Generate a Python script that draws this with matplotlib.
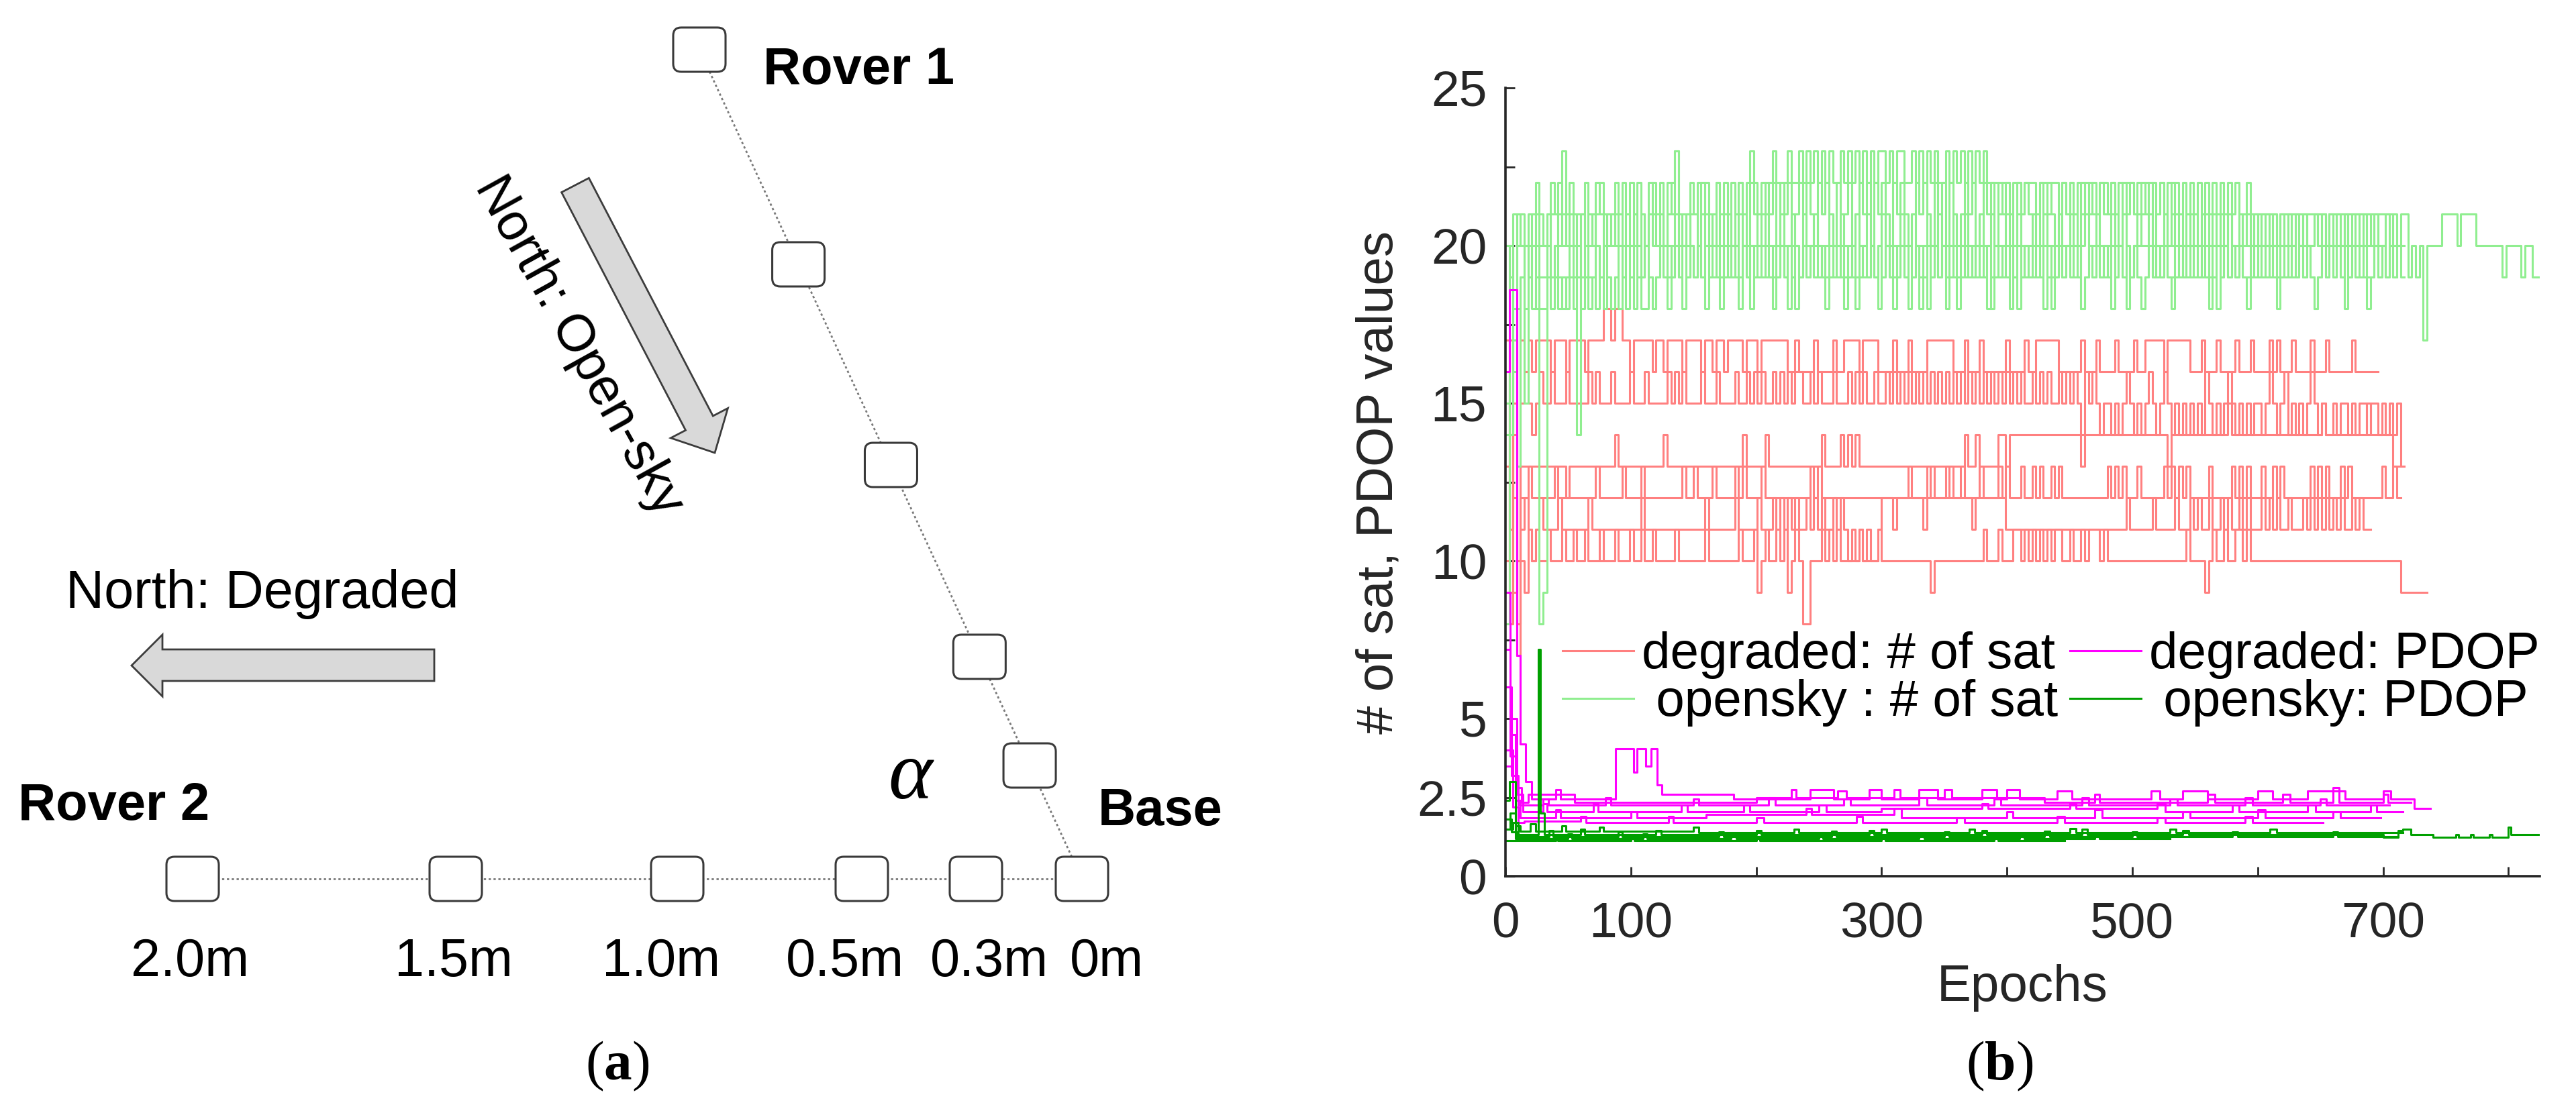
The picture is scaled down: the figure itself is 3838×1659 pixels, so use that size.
import numpy as np
import matplotlib
matplotlib.use("Agg")
from matplotlib import pyplot as plt
from matplotlib.patches import FancyBboxPatch, Polygon

plt.rcParams['font.family'] = ['Liberation Sans', 'DejaVu Sans']
plt.rcParams['mathtext.fontset'] = 'custom'
plt.rcParams['mathtext.rm'] = 'Liberation Serif'
plt.rcParams['mathtext.it'] = 'Liberation Serif:italic'
plt.rcParams['mathtext.bf'] = 'Liberation Serif:bold'

# ---- data ----
# number of satellites: one char per 3 epochs, value = int(char, 36)  (a=10 ... n=23)
deg_sat_1 = ("h9f7a9baba" "abaaabaaba" "abaaabaaab" "aaabaabaab" "aaaaabaaaa"
             "aaabaaaaaa" "aabaaab9ab" "aabab9aba8" "8aaabababa" "aaaabaaaab"
             "aaaaaaaaaa" "aaa9aaaaaa" "aaaaaaabaa" "abaaabbaba" "babababbaa"
             "baababbbab" "aaaaaaaaaa" "aaaaaaaaaa" "abaaaa9aba" "abaabbabaa"
             "aaaaaaaaaa" "aaaaaaaaaa" "aaaaaaaaaa" "aaaaaaaa99" "99999")
deg_sat_2 = ("d8h7bcbabc" "bbbbcbbbbb" "bbcbbabbbb" "bbbbbbcbbb" "bbbbbbbbbb"
             "bbbcbbbbbb" "bcbbbbbcbb" "bcbcbcbcbb" "cbcbcbbcbc" "babababaab"
             "cccbcccdcc" "cbcdcccdcc" "cdccbcdccc" "cccbbbbbbb" "bbbbbbbbbb"
             "bbbbbbbbbb" "bbbbbcbbbb" "bbcbbbbbcb" "bbcbcbbcbb" "cbcbbcbcbb"
             "bcbcbcbbcb" "bbcbcbcbcb" "cbcbbcbcbb")
deg_sat_3 = ("fe9accdccc" "cccdcccccc" "ccccdccccc" "cdccccdccc" "cccccccdcc"
             "dccccdcccc" "cdcdccccdc" "cccccccccc" "cdcdcccccc" "cccccccccc"
             "cccccccccc" "ccdcccccdc" "cccccccccc" "cdcdcccdcc" "dcdccdcdcc"
             "cccccccccc" "dcdcdcccdc" "cccccdcdcd" "cdcccccdcc" "cccdcdcdcc"
             "cdccdcdccc" "ccccdcdcdc" "ccdcdccccc" "cccdccdc")
deg_sat_4 = ("gbe8dddddd" "ddddddcddd" "ddddddddde" "dddddddddd" "ddeddddddd"
             "dddddddddd" "dddeddddde" "dddddddddd" "ddddedddde" "dededddddd"
             "dddddddddd" "dddddddddd" "ddeddedddd" "deedeeeeee" "eeeeeeeeee"
             "eeedeeeeee" "eeeeeeeeee" "eeeeeedeee" "eeeeeeeeee" "eefeeeeeee"
             "eeeeeeeeee" "eeeeeeefee" "eeeeeeeeef" "eeeeeeddd")
deg_sat_5 = ("9hcafgfefg" "ffgfffgfff" "ffgfgfffgf" "fffgfffgff" "fffgfgfgff"
             "ffgfffgfff" "fgffgfgfgf" "fgfgfgfggf" "fgfgfffgff" "fgfgfgffgf"
             "fgfgfgfgfg" "fgfgfgfgfg" "fgfgfgfgfg" "fgfgfgfgff" "gfgfgffgfg"
             "fgfegfgfef" "fefefgfefe" "fgfefgfefe" "fefefegfef" "efgfefefef"
             "fefgfefgef" "efefgfefee" "feffefeffe" "ffefefefd")
deg_sat_6 = ("aeh8hghghh" "hhghhhghhh" "hghhhhiihi" "ihhghhhhhg" "hhghhhhghh"
             "hhghhghhgh" "hhhghhhghh" "hhhhhgghgg" "gghgggghgg" "hhhhghhhhg"
             "ggghggghgg" "gghhhhhhhg" "gghggghggg" "ggghgggghg" "ghhhhhhggg"
             "ggghggghgg" "gghgggghgg" "hhhhhghhhh" "hhggghgggh" "gggghggghg"
             "ggghghgggh" "gggghggghg" "ggggghgggg" "gg")

open_sat_1 = ("kjlkkfklk8" "9kllmklkle" "lklkmlkllk" "lklmlklkml" "klkmlnklkl"
              "lkmlklmkll" "klmlkmlklm" "lmkmlmklml" "mlkmlmlkml" "lmklmlmkml"
              "mlkmlmlklm" "lmlkmlmkml" "klmlmklmlm" "kmlmlkmlml" "lkmlmlklml"
              "mlkmlmlkml" "lmlkmlmlkm" "lmklmlkmll" "klklkllklk" "lklkklklkl"
              "klklkklklk" "lklkklklkl" "klklkklklk" "klkklklkk")
open_sat_2 = ("ejgijkjkij" "jkjkjijkjk" "jkjjkjkjij" "kjkjkjjkji" "jkjkjkjijk"
              "jkjkjjkjkj" "kjikjkjjkj" "jkjkjijkjk" "jkjjkjkjkj" "ijkjkjjkjk"
              "jkjijkjkjk" "ijkjkjkijk" "jkjkjkjjki" "jkjkijkjkj" "jkjkjijkjk"
              "kjkijkjkjk" "jijkjkjkji" "jkjkjkjjkj" "kjkjkjjijk" "jkjkjkjjkj"
              "kjkjkjkjkj" "jkjkjijkjk" "jkjkjkjjkj" "jkjkjkjkj")
open_sat_3 = ("fkilkkllml" "klmlknlmkl" "lmlklmlklm" "lmlklmlklm" "lmklmnlklm"
              "lmlmlkmlml" "mlmlmnmlml" "mnmlmnmmnm" "nmnmnmnmmn" "mnmnmnmnmn"
              "nmnmnnmmnm" "nmnmnmmnmn" "mnmnmnmnmm" "mlmmlmmlmm" "mlmmlmmlml"
              "mlmlmlmlmm" "lmlmlmmlml" "mlmlmlmlml" "mlmlmlmlml" "mlmlmllmlk"
              "lklklklklk" "lklkklklkl" "klklklklkl" "klk")
open_sat_4 = ("8eidjijiji" "ijijijijij" "ijijijijij" "ijijijiiji" "jkjijkjkjk"
              "jkjijkjijk" "jkjkjijkjk" "jijkjkjijk" "jkjkjijkjk" "jkjijkjkji"
              "jkjkjkjijk" "kjijkjkjkj" "ijkjkjkjij" "kjkjkjijkj" "kjkijkjkjk"
              "jkjijkjkjk" "jkjkjijkji" "jkjkjkjijk" "jkjkjkjkji" "jkjkjkjijk"
              "jkjkjijkjk" "jkjkjijkjk" "jkjijkjkji" "jkjkjkj")
open_sat_5 = ("kkhklkjklk" "kljkllklkj" "lkklkjklkl" "kjkklkjklk" "klkjklkklk"
              "jklkklkjkl" "kklkjkklkl" "kjklkklkjl" "kklkjklkkl" "kjklkklkjk"
              "lkkjklkklk" "jklkklkjkl" "kklkjklkkl" "kjklkklkjk" "lkklkjklkk"
              "lkjklkklkj" "klkklkjklk" "klkjklkklk" "jklkklkjkl" "kklkjklkkl"
              "kllllkllll" "llklllllkl" "lllkllllll" "lkllllkkll" "jkjkhkkkkl"
              "lllkllllkk" "kkkkkjkkkk" "jkkjj")

# PDOP: step breakpoints (epoch, value)
deg_pdop_1_x = [0, 3, 9, 12, 16, 21, 40, 44, 88, 102, 105, 112, 116, 121, 125, 182, 243, 262, 290, 300,
                330, 345, 380, 392, 400, 410, 440, 452, 515, 522, 540, 560, 600, 612, 640, 670, 700, 706, 725, 738]
deg_pdop_1_y = [16.0, 18.6, 7.0, 4.2, 3.0, 2.45, 2.75, 2.45, 4.05, 3.3, 4.05, 3.5, 4.05, 2.9, 2.6, 2.45, 2.75, 2.45, 2.75, 2.45,
                2.75, 2.45, 2.75, 2.45, 2.75, 2.45, 2.7, 2.45, 2.7, 2.45, 2.7, 2.45, 2.7, 2.45, 2.7, 2.45, 2.7, 2.45, 2.15, 2.15]
deg_pdop_2_x = [0, 4, 8, 13, 18, 55, 58, 120, 200, 228, 232, 265, 272, 310, 315, 350, 356, 430, 470, 474,
                560, 566, 620, 626, 660, 665, 700, 704, 722]
deg_pdop_2_y = [7.2, 3.8, 2.8, 2.35, 2.6, 2.35, 2.35, 2.35, 2.5, 2.75, 2.5, 2.7, 2.5, 2.75, 2.5, 2.75, 2.5, 2.35, 2.6, 2.35,
                2.6, 2.35, 2.6, 2.35, 2.8, 2.35, 2.6, 2.35, 2.35]
deg_pdop_3_x = [0, 5, 9, 14, 30, 33, 70, 74, 140, 145, 190, 195, 250, 256, 300, 380, 385, 450, 455, 520,
                526, 580, 585, 640, 646, 690, 695, 716]
deg_pdop_3_y = [3.5, 5.0, 2.6, 2.05, 2.3, 2.05, 2.3, 2.05, 2.25, 2.05, 2.25, 2.05, 2.25, 2.05, 2.15, 2.3, 2.15, 2.3, 2.15, 2.3,
                2.05, 2.25, 2.05, 2.25, 2.05, 2.25, 2.05, 2.05]
deg_pdop_4_x = [0, 4, 8, 12, 40, 44, 100, 105, 160, 240, 244, 310, 316, 400, 405, 470, 476, 540, 546, 600,
                606, 660, 666, 698]
deg_pdop_4_y = [9.0, 4.5, 2.4, 1.85, 2.1, 1.85, 2.05, 1.85, 1.95, 2.15, 1.95, 2.15, 1.85, 2.05, 1.85, 2.1, 1.85, 2.05, 1.85, 2.1,
                1.85, 2.05, 1.85, 1.85]
deg_pdop_5_x = [0, 6, 10, 15, 60, 64, 130, 134, 200, 206, 280, 285, 360, 366, 440, 446, 520, 526, 590, 596, 652]
deg_pdop_5_y = [4.0, 2.2, 1.7, 1.75, 1.9, 1.7, 1.9, 1.7, 1.85, 1.7, 1.9, 1.7, 1.85, 1.7, 1.9, 1.7, 1.85, 1.7, 1.9, 1.7, 1.7]
deg_pdop_6_x = [0, 5, 10, 30, 34, 80, 84, 150, 154, 210, 215, 270, 275, 330, 336, 390, 395, 460, 465, 530,
                536, 590, 596, 650, 655, 705]
deg_pdop_6_y = [6.0, 3.2, 2.25, 2.45, 2.25, 2.5, 2.25, 2.45, 2.25, 2.5, 2.25, 2.45, 2.25, 2.5, 2.25, 2.45, 2.25, 2.5, 2.25, 2.45,
                2.25, 2.5, 2.25, 2.45, 2.25, 2.25]

open_pdop_1_x = [0, 6, 10, 26, 28, 31, 60, 63, 120, 124, 200, 204, 290, 294, 380, 384, 460, 464, 540, 545,
                 620, 700, 712, 716, 722, 740, 758, 760, 770, 772, 785, 787, 800, 802, 806, 825]
open_pdop_1_y = [1.5, 1.7, 1.32, 7.2, 2.0, 1.32, 1.5, 1.32, 1.45, 1.32, 1.45, 1.32, 1.45, 1.32, 1.45, 1.32, 1.5, 1.32, 1.45, 1.32,
                 1.32, 1.23, 1.45, 1.48, 1.32, 1.23, 1.32, 1.23, 1.32, 1.23, 1.32, 1.23, 1.55, 1.32, 1.32, 1.32]
open_pdop_2_x = [0, 3, 8, 12, 20, 24, 45, 48, 75, 78, 150, 154, 230, 234, 300, 304, 370, 374, 450, 455,
                 530, 535, 610, 615, 716]
open_pdop_2_y = [2.4, 3.0, 1.6, 1.42, 1.65, 1.42, 1.6, 1.42, 1.55, 1.42, 1.55, 1.38, 1.5, 1.38, 1.5, 1.38, 1.5, 1.38, 1.52, 1.38,
                 1.5, 1.38, 1.5, 1.38, 1.38]
open_pdop_3_x = [0, 5, 9, 35, 38, 90, 93, 170, 174, 260, 264, 350, 354, 430, 434, 500, 504, 580, 584, 660, 664, 712]
open_pdop_3_y = [1.8, 1.4, 1.26, 1.45, 1.26, 1.4, 1.26, 1.4, 1.26, 1.42, 1.26, 1.4, 1.26, 1.42, 1.26, 1.4, 1.26, 1.4, 1.26, 1.4, 1.26, 1.26]
open_pdop_4_x = [0, 4, 8, 50, 53, 110, 113, 180, 184, 250, 253, 330, 334, 410, 414, 470, 474, 530]
open_pdop_4_y = [1.5, 2.0, 1.2, 1.35, 1.2, 1.35, 1.2, 1.3, 1.2, 1.35, 1.2, 1.3, 1.2, 1.35, 1.2, 1.3, 1.2, 1.2]
open_pdop_5_x = [0, 40, 42, 57, 100, 103, 200, 203, 300, 303, 390, 393, 446]
open_pdop_5_y = [1.12, 1.2, 1.12, 1.12, 1.25, 1.12, 1.25, 1.12, 1.25, 1.12, 1.25, 1.12, 1.12]

y_ticks = [0, 2.5, 5, 7.5, 10, 12.5, 15, 17.5, 20, 22.5, 25]
y_tick_labels = ['0', '2.5', '5', '', '10', '', '15', '', '20', '', '25']
x_ticks = [0, 100, 200, 300, 400, 500, 600, 700, 800]
x_tick_labels = ['0', '100', '', '300', '', '500', '', '700', '']

distance_labels = ['2.0m', '1.5m', '1.0m', '0.5m', '0.3m', '0m']

W, H = 3838, 1659


def decode(s, stride=3):
    v = [int(c, 36) for c in s]
    x = np.arange(len(v) + 1) * stride
    return x, v + [v[-1]]


def draw_diagram(fig):
    # panel (a), drawn in pixel coordinates
    dg = fig.add_axes([0, 0, 1, 1])
    dg.set_xlim(0, W)
    dg.set_ylim(H, 0)
    dg.axis('off')

    rover1 = np.array([1042, 74])
    base = np.array([1612, 1310])
    diag_y = [394, 693, 979, 1141]
    row_x = [287, 679, 1009, 1284, 1454, 1612]

    dg.plot([rover1[0], base[0]], [rover1[1], base[1]], ls=(0, (1.2, 1.4)), color='#7a7a7a', lw=2, zorder=1)
    dg.plot([row_x[0], row_x[-1]], [1310, 1310], ls=(0, (1.2, 1.4)), color='#7a7a7a', lw=2, zorder=1)

    boxes = [tuple(rover1)]
    for y in diag_y:
        boxes.append((rover1[0] + (y - rover1[1]) * (base[0] - rover1[0]) / (base[1] - rover1[1]), y))
    for x in row_x:
        boxes.append((x, 1310))
    bw, bh = 78, 66
    for cx, cy in boxes:
        dg.add_patch(FancyBboxPatch((cx - bw / 2, cy - bh / 2), bw, bh,
                                    boxstyle="round,pad=0,rounding_size=12",
                                    fc='white', ec='#3a3a3a', lw=2.2, zorder=3))

    dg.text(1137, 125, 'Rover 1', fontsize=56, fontweight='bold', ha='left', va='baseline')
    dg.text(27, 1222, 'Rover 2', fontsize=56, fontweight='bold', ha='left', va='baseline')
    dg.text(1636, 1230, 'Base', fontsize=56, fontweight='bold', ha='left', va='baseline')
    dg.text(1358, 1158, r'$\alpha$', fontsize=90, ha='center', va='center')

    label_x = [283, 676, 985, 1259, 1474, 1649]
    for lx, lab in zip(label_x, distance_labels):
        dg.text(lx, 1455, lab, fontsize=57, ha='center', va='baseline')

    # arrows
    left = [(647, 968), (242, 968), (242, 946), (196, 992), (242, 1038), (242, 1015), (647, 1015)]
    dg.add_patch(Polygon(left, closed=True, fc='#d9d9d9', ec='#3c3c3c', lw=2))
    dg.text(98, 906, 'North: Degraded', fontsize=57, ha='left', va='baseline')

    tail = np.array([857.0, 276.0])
    tip = np.array([1065.0, 675.0])
    u = (tip - tail) / np.linalg.norm(tip - tail)
    n = np.array([-u[1], u[0]])
    sw, hw, hl = 46, 96, 50
    b = tip - u * hl
    pts = [tail + n * sw / 2, b + n * sw / 2, b + n * hw / 2, tip,
           b - n * hw / 2, b - n * sw / 2, tail - n * sw / 2]
    dg.add_patch(Polygon(pts, closed=True, fc='#d9d9d9', ec='#3c3c3c', lw=2))
    dg.text(862, 516, 'North: Open-sky', fontsize=56, rotation=-61,
            rotation_mode='anchor', ha='center', va='center')

    dg.text(920, 1589, r'($\mathbf{a}$)', fontsize=60, family='Liberation Serif', ha='center', va='center')
    dg.text(2979, 1589, r'($\mathbf{b}$)', fontsize=60, family='Liberation Serif', ha='center', va='center')


def draw_chart(fig):
    ax = fig.add_axes([2243 / W, 1 - 1306 / H, 1541 / W, 1175 / H])
    lw = 2.2
    red, lgreen, mag, green = '#ff8080', '#90ee90', '#ff00ff', '#00a000'

    for i, s in enumerate([deg_sat_1, deg_sat_2, deg_sat_3, deg_sat_4, deg_sat_5, deg_sat_6]):
        x, y = decode(s)
        ax.step(x, y, where='post', color=red, lw=lw, label='degraded: # of sat' if i == 0 else None)
    for i, s in enumerate([open_sat_1, open_sat_2, open_sat_3, open_sat_4, open_sat_5]):
        x, y = decode(s)
        ax.step(x, y, where='post', color=lgreen, lw=lw, label=' opensky : # of sat' if i == 0 else None)

    deg_pdop = [(deg_pdop_1_x, deg_pdop_1_y), (deg_pdop_2_x, deg_pdop_2_y), (deg_pdop_3_x, deg_pdop_3_y),
                (deg_pdop_4_x, deg_pdop_4_y), (deg_pdop_5_x, deg_pdop_5_y), (deg_pdop_6_x, deg_pdop_6_y)]
    for i, (x, y) in enumerate(deg_pdop):
        ax.step(x, y, where='post', color=mag, lw=lw, label='degraded: PDOP' if i == 0 else None)
    open_pdop = [(open_pdop_1_x, open_pdop_1_y), (open_pdop_2_x, open_pdop_2_y), (open_pdop_3_x, open_pdop_3_y),
                 (open_pdop_4_x, open_pdop_4_y), (open_pdop_5_x, open_pdop_5_y)]
    for i, (x, y) in enumerate(open_pdop):
        ax.step(x, y, where='post', color=green, lw=lw, label=' opensky: PDOP' if i == 0 else None)

    ax.set_xlim(0, 825)
    ax.set_ylim(0, 25)
    for side in ['top', 'right']:
        ax.spines[side].set_visible(False)
    for side in ['left', 'bottom']:
        ax.spines[side].set_linewidth(2.6)
        ax.spines[side].set_color('#262626')

    ax.set_yticks(y_ticks)
    ax.set_yticklabels(y_tick_labels)
    ax.set_xticks(x_ticks)
    ax.set_xticklabels(x_tick_labels)
    ax.tick_params(direction='in', length=10, width=2, colors='#262626', labelsize=54)
    ax.tick_params(axis='y', pad=20)
    ax.tick_params(axis='x', pad=27)

    ax.set_ylabel('# of sat, PDOP values', fontsize=55, color='#262626', va='center')
    ax.yaxis.set_label_coords(-0.122, 0.5)
    ax.set_xlabel('Epochs', fontsize=55, color='#262626', va='center')
    ax.xaxis.set_label_coords(0.5, -0.1413)

    h, l = ax.get_legend_handles_labels()
    ax.legend(h, l, ncol=2, frameon=False, fontsize=55,
              handlelength=1.38, handletextpad=0.16, columnspacing=0.24, labelspacing=0.0,
              borderpad=0, borderaxespad=0, loc='center', bbox_to_anchor=(0.5276, 0.25))


fig = plt.figure(figsize=(W / 100, H / 100), dpi=100)
draw_diagram(fig)
draw_chart(fig)
plt.savefig('out.png', dpi=100)
